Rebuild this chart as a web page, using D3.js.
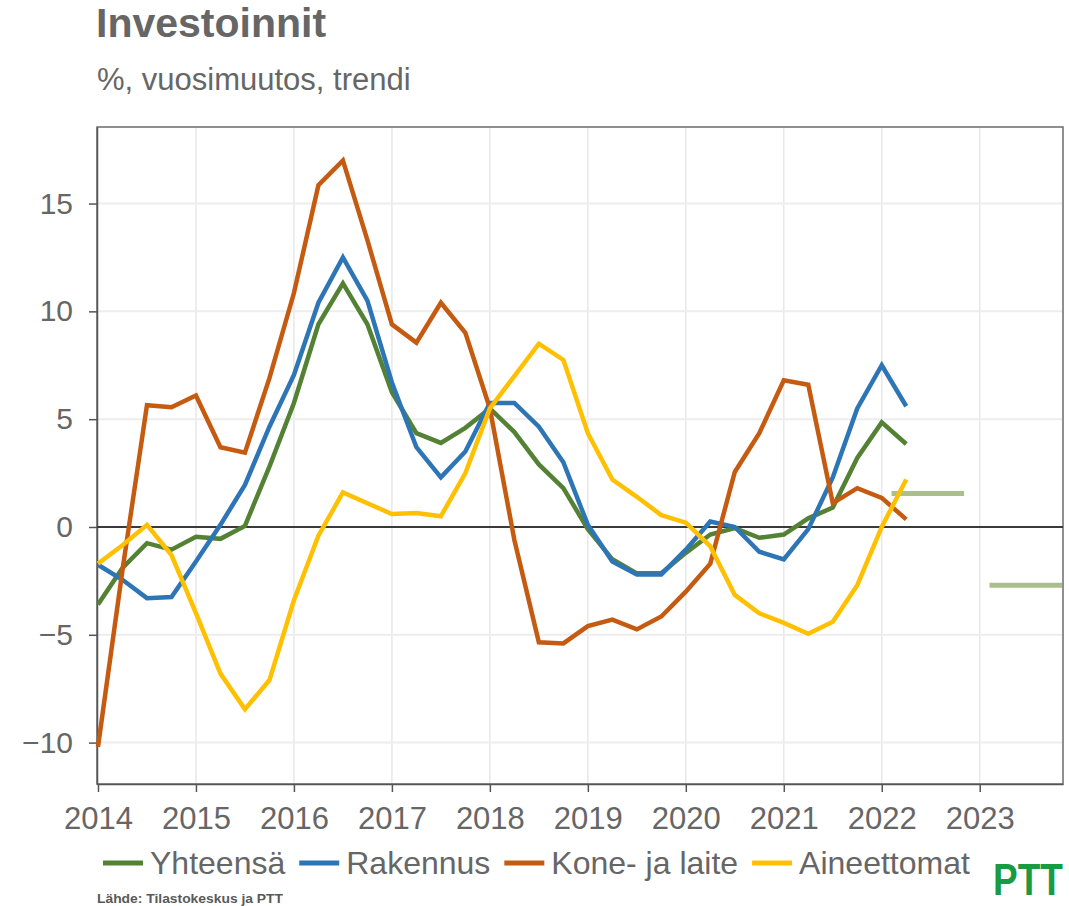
<!DOCTYPE html>
<html><head><meta charset="utf-8">
<script src="https://cdn.jsdelivr.net/npm/d3@7"></script>
<style>
html,body{margin:0;padding:0;background:#fff;}
svg text{font-family:"Liberation Sans",Arial,sans-serif;}
</style></head>
<body>
<svg id="chart" width="1069" height="906"></svg>
<script>
const quarters = ["2014Q1","2014Q2","2014Q3","2014Q4","2015Q1","2015Q2","2015Q3","2015Q4",
"2016Q1","2016Q2","2016Q3","2016Q4","2017Q1","2017Q2","2017Q3","2017Q4",
"2018Q1","2018Q2","2018Q3","2018Q4","2019Q1","2019Q2","2019Q3","2019Q4",
"2020Q1","2020Q2","2020Q3","2020Q4","2021Q1","2021Q2","2021Q3","2021Q4",
"2022Q1","2022Q2"];
const yhteensa = [-3.6,-1.9,-0.75,-1.05,-0.45,-0.55,0.05,2.8,5.75,9.4,11.3,9.4,6.25,4.35,3.9,4.6,
5.5,4.4,2.9,1.8,-0.1,-1.5,-2.15,-2.15,-1.2,-0.35,-0.05,-0.5,-0.35,0.4,0.9,3.2,4.85,3.85];
const rakennus = [-1.75,-2.45,-3.3,-3.25,-1.6,0.1,1.95,4.65,7.05,10.4,12.5,10.5,6.7,3.7,2.3,3.5,
5.75,5.75,4.65,3.0,0.1,-1.6,-2.2,-2.2,-1.05,0.25,0.0,-1.15,-1.5,-0.1,2.3,5.5,7.5,5.6];
const koneJaLaite = [-10.2,-2.0,5.65,5.55,6.1,3.7,3.45,6.9,10.85,15.85,17.0,13.3,9.4,8.55,10.4,9.0,
5.5,-0.6,-5.35,-5.4,-4.6,-4.3,-4.75,-4.15,-3.0,-1.7,2.55,4.35,6.8,6.6,1.1,1.8,1.35,0.35];
const aineettomat = [-1.7,-0.85,0.1,-1.3,-4.0,-6.8,-8.45,-7.1,-3.4,-0.4,1.6,1.1,0.6,0.65,0.5,2.5,
5.5,7.0,8.5,7.75,4.35,2.2,1.4,0.55,0.2,-0.9,-3.15,-4.0,-4.45,-4.95,-4.4,-2.7,0.0,2.2];
const forecastYears = [2022, 2023];
const forecastYhteensa = [1.55, -2.7];
const seriesNames = ["Yhteensä","Rakennus","Kone- ja laite","Aineettomat"];
const seriesColors = ["#548235","#2e75b6","#c55a11","#ffc000"];
const xTickYears = [2014,2015,2016,2017,2018,2019,2020,2021,2022,2023];
const yTickValues = [-10,-5,0,5,10,15];

const seriesData = [yhteensa, rakennus, koneJaLaite, aineettomat];
const qToYear = q => +q.slice(0,4) + (+q.slice(5)-1)/4;

const svg = d3.select("#chart");
const L = 97, R = 1063, T = 127, B = 784;
const x = d3.scaleLinear().domain([2014 - 0.01, 2023.85]).range([L, R]);
const y = d3.scaleLinear().domain([-11.92, 18.55]).range([B, T]);
const grey = "#666666";

// title
svg.append("text").attr("x", 96).attr("y", 37).attr("font-size", 41).attr("font-weight", "bold")
  .attr("fill", grey).text("Investoinnit");
svg.append("text").attr("x", 97).attr("y", 90).attr("font-size", 31)
  .attr("fill", grey).text("%, vuosimuutos, trendi");

// grid
const g = svg.append("g");
g.selectAll(".vg").data(xTickYears.slice(1)).join("line")
  .attr("x1", d => x(d)).attr("x2", d => x(d)).attr("y1", T).attr("y2", B)
  .attr("stroke", "#e8e8e8").attr("stroke-width", 1.5);
g.selectAll(".hg").data(yTickValues.filter(v => v !== 0)).join("line")
  .attr("x1", L).attr("x2", R).attr("y1", d => y(d)).attr("y2", d => y(d))
  .attr("stroke", "#ededed").attr("stroke-width", 2);

// border
svg.append("rect").attr("x", L).attr("y", T).attr("width", R - L).attr("height", B - T)
  .attr("fill", "none").attr("stroke", "#6b6b6b").attr("stroke-width", 1.5);

// axes
const yAxis = d3.axisLeft(y).tickValues(yTickValues).tickSize(8).tickSizeOuter(0).tickPadding(16)
  .tickFormat(d => d < 0 ? "\u2212" + Math.abs(d) : d);
const ya = svg.append("g").attr("transform", `translate(${L},0)`).call(yAxis);
ya.select(".domain").attr("stroke", "#555").attr("stroke-width", 1.5);
ya.selectAll(".tick line").attr("stroke", "#555").attr("stroke-width", 1.5);
ya.selectAll(".tick text").attr("font-size", 30).attr("fill", grey)
  .attr("font-family", "Liberation Sans, Arial, sans-serif");

const xAxis = d3.axisBottom(x).tickValues(xTickYears).tickSize(8).tickSizeOuter(0).tickPadding(15).tickFormat(d3.format("d"));
const xa = svg.append("g").attr("transform", `translate(0,${B})`).call(xAxis);
xa.select(".domain").attr("stroke", "#555").attr("stroke-width", 1.5);
xa.selectAll(".tick line").attr("stroke", "#555").attr("stroke-width", 1.5);
xa.selectAll(".tick text").attr("font-size", 31).attr("fill", grey)
  .attr("font-family", "Liberation Sans, Arial, sans-serif");

// zero line
svg.append("line").attr("x1", L).attr("x2", R).attr("y1", y(0)).attr("y2", y(0))
  .attr("stroke", "#3a3a3a").attr("stroke-width", 2.2);

// forecast bars
svg.selectAll(".fc").data(forecastYears).join("line")
  .attr("x1", d => x(d + 0.1)).attr("x2", (d) => x(d + 0.84))
  .attr("y1", (d, i) => y(forecastYhteensa[i])).attr("y2", (d, i) => y(forecastYhteensa[i]))
  .attr("stroke", "#a9c08d").attr("stroke-width", 5);

// lines
const line = d3.line().x((d, i) => x(qToYear(quarters[i]))).y(d => y(d));
seriesData.forEach((s, k) => {
  svg.append("path").datum(s).attr("d", line).attr("fill", "none")
    .attr("stroke", seriesColors[k]).attr("stroke-width", 4.5)
    .attr("stroke-linejoin", "miter").attr("stroke-linecap", "butt");
});

// legend
let lx = 103;
const ly = 863;
seriesNames.forEach((n, k) => {
  svg.append("line").attr("x1", lx).attr("x2", lx + 40).attr("y1", ly).attr("y2", ly)
    .attr("stroke", seriesColors[k]).attr("stroke-width", 5);
  const t = svg.append("text").attr("x", lx + 47).attr("y", ly + 11).attr("font-size", 32)
    .attr("fill", grey).text(n);
  lx = lx + 47 + t.node().getComputedTextLength() + 14;
});

// source
svg.append("text").attr("x", 97).attr("y", 903).attr("font-size", 13).attr("font-weight", "bold")
  .attr("fill", "#595959").attr("textLength", 186).attr("lengthAdjust", "spacingAndGlyphs")
  .text("Lähde: Tilastokeskus ja PTT");

// logo
svg.append("text").attr("transform", "translate(993,895) scale(1,1.2)")
  .attr("font-size", 37).attr("font-weight", "bold")
  .attr("fill", "#1a9a42").text("PTT");
</script>
</body></html>
